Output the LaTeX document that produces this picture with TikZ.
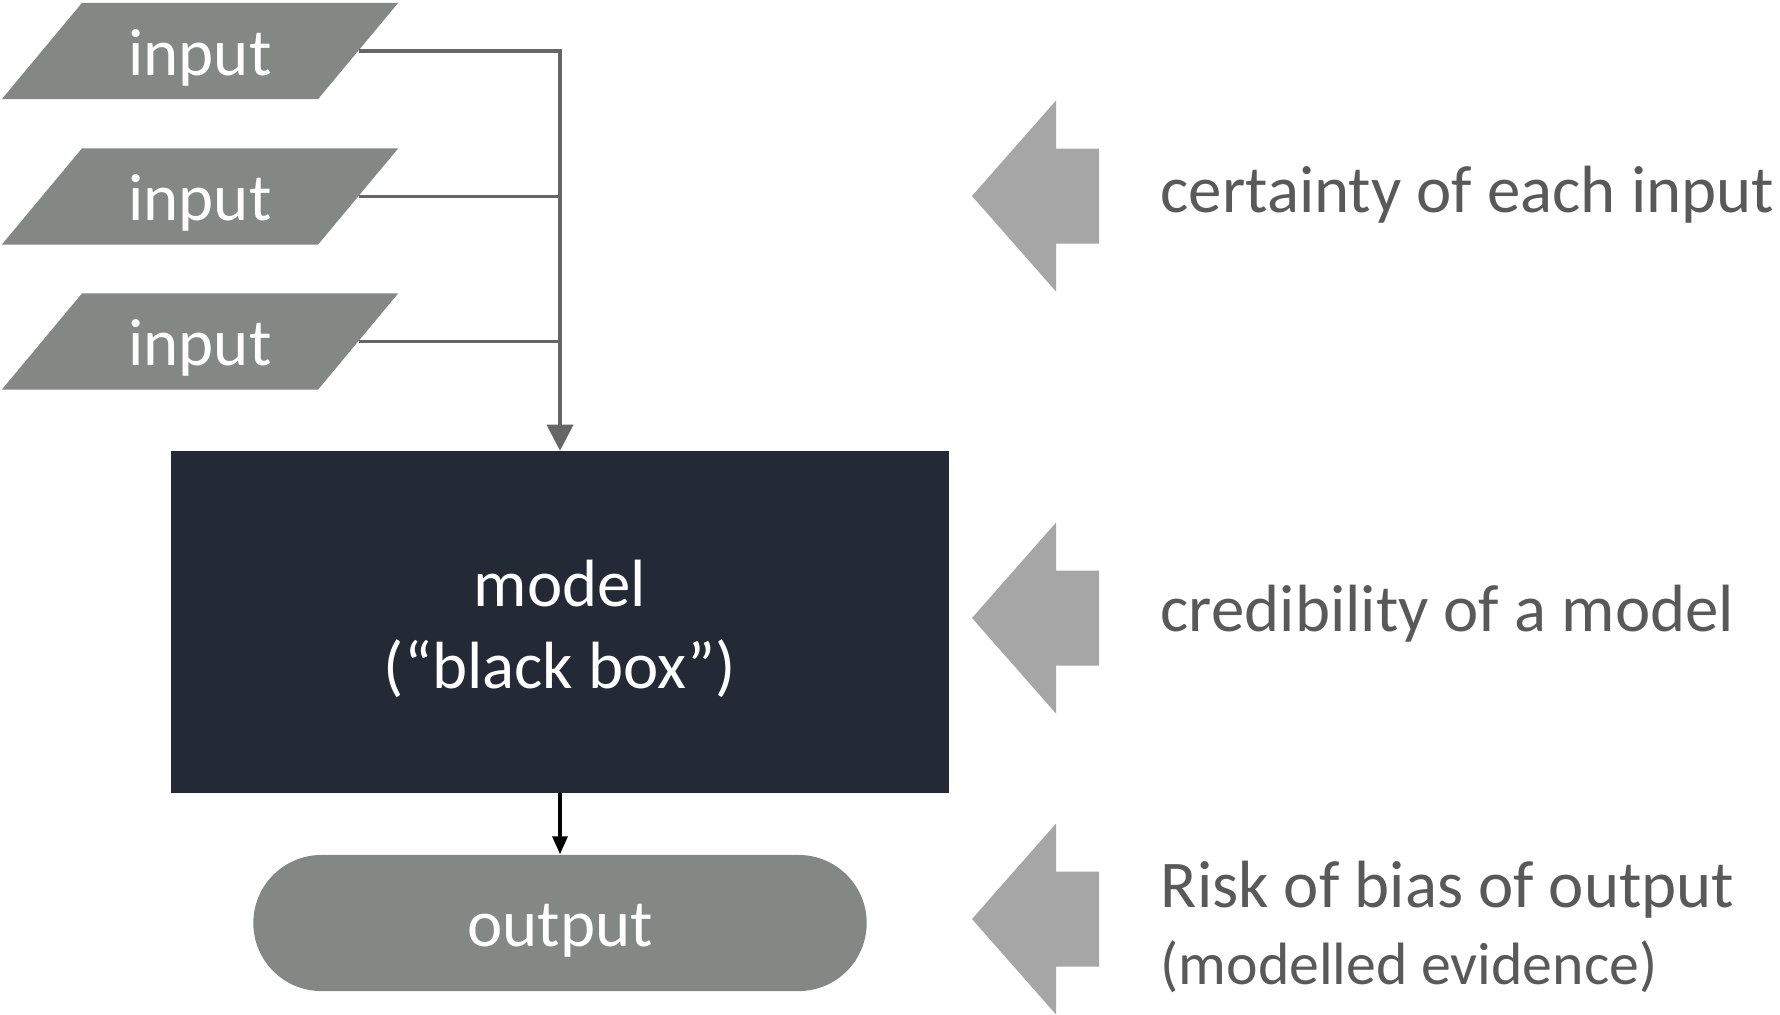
\documentclass[tikz,border=0pt]{standalone}
\usepackage{fontspec}
\setmainfont{Carlito}
\usetikzlibrary{arrows.meta,positioning,shapes.geometric,shapes.misc}
\definecolor{inputgray}{HTML}{838885}
\definecolor{boxnavy}{HTML}{232A35}
\definecolor{linegray}{HTML}{666666}
\definecolor{blockgray}{HTML}{A6A6A6}
\definecolor{labelgray}{HTML}{595959}

\begin{document}
\begin{tikzpicture}[
  x=0.01cm, y=-0.01cm,
  font=\fontsize{19}{23.3}\selectfont,
  inbox/.style={trapezium, trapezium left angle=50.2, trapezium right angle=129.8, trapezium stretches body,
    fill=inputgray, text=white, inner sep=0pt, text height=0.72cm, text depth=0.24cm, minimum width=3.96cm},
  blackbox/.style={rectangle, fill=boxnavy, text=white, align=center, inner sep=0pt, minimum width=7.78cm, minimum height=3.41cm},
  outbox/.style={rounded rectangle, fill=inputgray, text=white, inner sep=0pt, text height=0.91cm, text depth=0.45cm, minimum width=6.13cm},
  feed/.style={draw=linegray, line width=1.1pt},
  feedarr/.style={feed, -{Triangle[length=2.6mm, width=2.6mm]}},
  outarr/.style={-{Triangle[length=1.8mm, width=1.5mm]}, line width=1pt},
  side/.style={text=labelgray, anchor=west, align=left, inner sep=0pt},
  sidearrow/.style={fill=blockgray}
]
\useasboundingbox (0,0) rectangle (1780,1014);
\def\xM{560}\def\xT{972}\def\xL{1160}

% ================= FLOW =================
\node[inbox] (in1) at (200,51)    {input};
\node[inbox] (in2) at (200,196.5) {input};
\node[inbox] (in3) at (200,341.5) {input};
\node[blackbox] (model) at (\xM,622) {\rule{0pt}{0.6cm}model\\(“black box”)};
\node[outbox] (out) at (\xM,923) {output};

\draw[feedarr] (in1.east) -| (model.north);
\draw[feed] (in2.east) -- (in2.east -| model.north);
\draw[feed] (in3.east) -- (in3.east -| model.north);
\draw[outarr] (model.south) -- (out.north);

% ================= ASSESSMENT =================
\foreach \ty in {196,618,919}{
  \fill[sidearrow] (\xT,\ty) -- ++(84,-95.5) -- ++(0,48) -- ++(43,0) -- ++(0,95) -- ++(-43,0) -- ++(0,48) -- cycle;
}
\node[side] (crt) at (\xL,195) {certainty of each input};
\node[side] (crd) at (\xL,614) {credibility of a model};
\node[side] (rob) at (\xL,927) {Risk of bias of output\\[-1.5pt]{\fontsize{17}{20}\selectfont (modelled evidence)}};

\end{tikzpicture}
\end{document}
